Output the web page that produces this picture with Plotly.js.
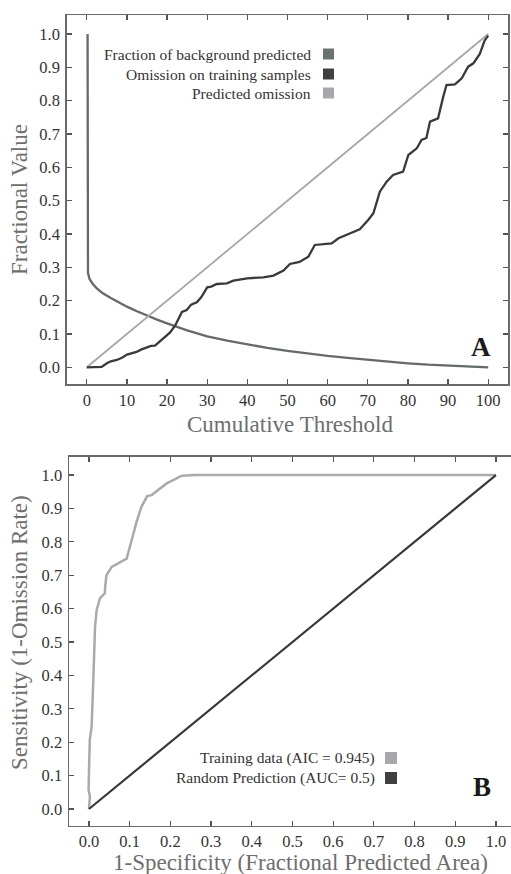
<!DOCTYPE html>
<html>
<head>
<meta charset="utf-8">
<script src="https://cdn.plot.ly/plotly-3.0.1.min.js"></script>
<style>html,body{margin:0;padding:0;background:#fff;}#chart{width:511px;height:874px;}</style>
</head>
<body>
<div id="chart"></div>
<script>
// ---- Panel A data ----
var thresholdTicks = [0,10,20,30,40,50,60,70,80,90,100];
var fractionTicks = [0,0.1,0.2,0.3,0.4,0.5,0.6,0.7,0.8,0.9,1.0];

var bgX = [0.2,0.2,0.3,0.7,1.5,2.5,4,6,8,10,12.5,15,17.5,20,22.5,25,27.5,30,35,40,45,50,55,60,65,70,75,80,85,90,95,100];
var bgY = [1.0,0.30,0.283,0.265,0.25,0.237,0.222,0.208,0.194,0.182,0.168,0.155,0.143,0.132,0.121,0.111,0.102,0.093,0.080,0.068,0.058,0.049,0.041,0.034,0.028,0.022,0.016,0.012,0.008,0.005,0.002,0.0];

var omX = [0,2,3.7,5,6,7.5,9,10,11,12.4,13.5,15,16,17,18,19,20.7,22,23,23.7,24.9,26,27.4,28.5,30,31,32.4,34.9,36.5,40,44,46.5,49,50.6,53,55.2,56.8,59,61,62.7,65.6,68,70.1,71.4,73,74.7,76.3,78.8,80.1,82.2,83.4,84.6,85.5,87.5,88.8,89.6,91.7,93.4,95,96.3,97.9,99.1,100];
var omY = [0,0,0.001,0.012,0.018,0.022,0.03,0.038,0.042,0.046,0.053,0.06,0.064,0.065,0.075,0.086,0.104,0.125,0.150,0.166,0.172,0.188,0.195,0.21,0.240,0.242,0.25,0.252,0.26,0.267,0.27,0.275,0.29,0.31,0.316,0.332,0.367,0.369,0.372,0.387,0.402,0.414,0.442,0.462,0.527,0.557,0.577,0.587,0.637,0.657,0.682,0.688,0.737,0.747,0.812,0.847,0.849,0.867,0.902,0.912,0.94,0.98,0.995];

var predX = [0,100];
var predY = [0,1];

var legendA = ['Fraction of background predicted','Omission on training samples','Predicted omission'];
var titlesA = ['Cumulative Threshold','Fractional Value'];

// ---- Panel B data ----
var specTicks = [0,0.1,0.2,0.3,0.4,0.5,0.6,0.7,0.8,0.9,1.0];
var sensTicks = [0,0.1,0.2,0.3,0.4,0.5,0.6,0.7,0.8,0.9,1.0];

var rocX = [0,0.0025,-0.001,0.001,0.002,0.0066,0.008,0.011,0.015,0.019,0.027,0.039,0.040,0.043,0.056,0.072,0.0926,0.105,0.117,0.129,0.143,0.154,0.174,0.191,0.207,0.228,0.26,0.4,0.6,0.8,1.0];
var rocY = [0,0.037,0.057,0.147,0.207,0.246,0.326,0.396,0.546,0.596,0.631,0.646,0.666,0.70,0.725,0.735,0.75,0.805,0.86,0.905,0.937,0.94,0.96,0.975,0.985,0.998,1.0,1.0,1.0,1.0,1.0];

var randX = [0,1];
var randY = [0,1];

var legendB = ['Training data (AIC = 0.945)','Random Prediction (AUC= 0.5)'];
var titlesB = ['1-Specificity (Fractional Predicted Area)','Sensitivity (1-Omission Rate)'];

// ---- Styling ----
var serif = 'Liberation Serif, Times New Roman, DejaVu Serif, serif';
var cBg = '#646969', cBgSw = '#6b7371';
var cOm = '#3a3a3a', cOmSw = '#404040';
var cPred = '#a8a8aa', cPredSw = '#a8a8ac';
var cTrain = '#aaaaac', cRand = '#383838';
var cTitle = '#6e6e6e';

var traces = [
  {x: bgX, y: bgY, type:'scatter', mode:'lines', name: legendA[0], line:{color:cBg, width:2.3}, xaxis:'x', yaxis:'y'},
  {x: predX, y: predY, type:'scatter', mode:'lines', name: legendA[2], line:{color:cPred, width:1.8}, xaxis:'x', yaxis:'y'},
  {x: omX, y: omY, type:'scatter', mode:'lines', name: legendA[1], line:{color:cOm, width:2.3}, xaxis:'x', yaxis:'y'},
  {x: rocX, y: rocY, type:'scatter', mode:'lines', name: legendB[0], line:{color:cTrain, width:2.5}, xaxis:'x2', yaxis:'y2'},
  {x: randX, y: randY, type:'scatter', mode:'lines', name: legendB[1], line:{color:cRand, width:2.2}, xaxis:'x2', yaxis:'y2'}
];

function ax(extra){
  var base = {
    ticks:'inside', ticklen:5, tickwidth:1.2, tickcolor:'#555',
    showline:true, linecolor:'#6a6a6a', linewidth:1.5,
    showgrid:false, zeroline:false, automargin:false,
    tickfont:{family:serif, size:16.5, color:'#333'}
  };
  for (var k in extra) base[k] = extra[k];
  return base;
}

var W = 511, H = 874;
function px(x){ return x / W; }
function py(y){ return 1 - y / H; }

function note(x, y, text, size, color, extra){
  var a = {xref:'paper', yref:'paper', x:px(x), y:py(y), xanchor:'center', yanchor:'middle',
    text:text, showarrow:false, font:{family:serif, size:size, color:color}};
  for (var k in (extra||{})) a[k] = extra[k];
  return a;
}

var layout = {
  width: W, height: H,
  margin:{l:0, r:0, t:0, b:0},
  paper_bgcolor:'#fff', plot_bgcolor:'#fff',
  showlegend:false,
  font:{family:serif, color:'#333'},
  xaxis: ax({domain:[px(66.7), px(508.3)], range:[-5,105], anchor:'y', mirror:'ticks',
    tickvals: thresholdTicks, tickformat:'d', ticklabelstandoff:0}),
  yaxis: ax({domain:[py(384.3), py(15)], range:[-0.051,1.057], anchor:'x', mirror:'ticks',
    tickvals: fractionTicks, tickformat:'.1f', ticklabelstandoff:2}),
  xaxis2: ax({domain:[px(69), 1], range:[-0.049,1.037], anchor:'y2', mirror:'ticks',
    tickvals: specTicks, tickformat:'.1f', ticklabelstandoff:0}),
  yaxis2: ax({domain:[py(825.7), py(456.7)], range:[-0.05,1.055], anchor:'x2', mirror:false,
    tickvals: sensTicks, tickformat:'.1f', ticklabelstandoff:2}),
  annotations: [
    note(289.5, 424, titlesA[0], 23, cTitle),
    note(19, 200, titlesA[1], 23, cTitle, {textangle:-90}),
    note(300, 862, titlesB[0], 23, cTitle),
    note(19, 633, titlesB[1], 23, cTitle, {textangle:-90}),
    note(313, 54, legendA[0], 15.5, '#333', {xanchor:'right'}),
    note(313, 74, legendA[1], 15.5, '#333', {xanchor:'right'}),
    note(313, 93, legendA[2], 15.5, '#333', {xanchor:'right'}),
    note(481, 347, '<b>A</b>', 27, '#1a1a1a'),
    note(377, 758, legendB[0], 15.5, '#333', {xanchor:'right'}),
    note(377, 778, legendB[1], 15.5, '#333', {xanchor:'right'}),
    note(482, 787, '<b>B</b>', 27, '#1a1a1a')
  ],
  shapes: [
    {type:'rect', xref:'paper', yref:'paper', x0:px(323), x1:px(334), y0:py(59.5), y1:py(48.5), fillcolor:cBgSw, line:{width:0}},
    {type:'rect', xref:'paper', yref:'paper', x0:px(323), x1:px(334), y0:py(79.5), y1:py(68.5), fillcolor:cOmSw, line:{width:0}},
    {type:'rect', xref:'paper', yref:'paper', x0:px(323), x1:px(334), y0:py(98.5), y1:py(87.5), fillcolor:cPredSw, line:{width:0}},
    {type:'rect', xref:'paper', yref:'paper', x0:px(385), x1:px(397), y0:py(764), y1:py(752), fillcolor:cPredSw, line:{width:0}},
    {type:'rect', xref:'paper', yref:'paper', x0:px(385), x1:px(397), y0:py(784), y1:py(772), fillcolor:cOmSw, line:{width:0}}
  ]
};

Plotly.newPlot('chart', traces, layout, {displayModeBar:false, staticPlot:true});
</script>
</body>
</html>
